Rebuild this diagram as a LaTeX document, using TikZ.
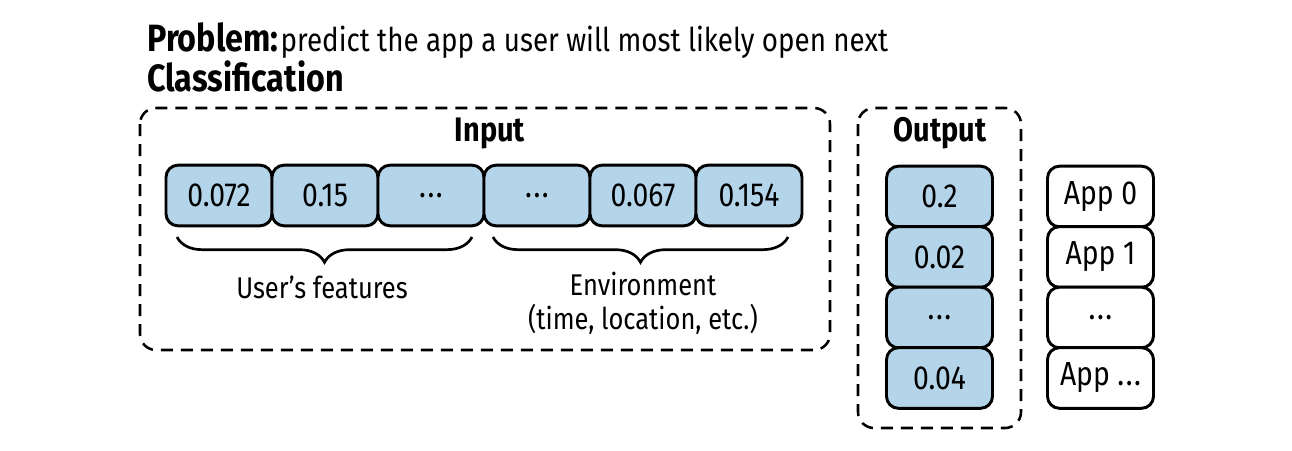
\documentclass[tikz,border=0pt]{standalone}
\usepackage{fontspec}
\setmainfont{Fira Sans}[FakeStretch=0.85]
\usetikzlibrary{decorations.pathreplacing}
\definecolor{cellblue}{RGB}{180,212,234}
\newcommand{\mydots}{.\kern1.2pt.\kern1.2pt.}
\tikzset{
  cellbox/.style={draw=black, line width=2.2pt, rounded corners=9pt, fill=cellblue,
    minimum width=79.5pt, minimum height=45.5pt, inner sep=0pt,
    font=\fontsize{25}{30}\selectfont},
  appbox/.style={cellbox, fill=white},
  groupbox/.style={draw=black, line width=1.9pt, dash pattern=on 9pt off 6pt, rounded corners=12pt},
  headlbl/.style={font=\fontsize{25.5}{30}\selectfont\bfseries},
  lbl/.style={font=\fontsize{22.5}{25.5}\selectfont, align=center},
  bracestyle/.style={draw=black, line width=2pt, decorate, decoration={brace, amplitude=19pt}}
}
\begin{document}
\begin{tikzpicture}[x=0.75pt,y=-0.75pt]
\useasboundingbox (0,0) rectangle (1292,450);
% title
\node[anchor=base west, inner sep=0pt] (title) at (147,51)
  {{\fontsize{28.5}{34}\selectfont\bfseries Problem:}\,{\fontsize{24.5}{29}\selectfont predict the app a user will most likely open next}};
\node[anchor=base west, inner sep=0pt, font=\fontsize{28.5}{34}\selectfont\bfseries] (cls) at (147,91) {Classification};
% group boxes
\draw[groupbox] (140,108) rectangle (830,350);
\draw[groupbox] (858,108) rectangle (1021,428);
\node[headlbl] (inlbl) at (490,133) {Input};
\node[headlbl] (outlbl) at (940,133) {Output};
% input cells
\node[cellbox] (c1) at (219,195.5) {0.072};
\node[cellbox] (c2) at (325,195.5) {0.15};
\node[cellbox] (c3) at (431,195.5) {\mydots};
\node[cellbox] (c4) at (537,195.5) {\mydots};
\node[cellbox] (c5) at (643,195.5) {0.067};
\node[cellbox] (c6) at (749,195.5) {0.154};
% braces
\coordinate (b1s) at (472,237);
\coordinate (b1e) at (177,237);
\coordinate (b2s) at (788,237);
\coordinate (b2e) at (493,237);
\draw[bracestyle] (b1s) -- (b1e);
\draw[bracestyle] (b2s) -- (b2e);
\node[lbl] (ulbl) at (322,287) {User’s features};
\node[lbl] (elbl) at (643,303) {Environment\\(time, location, etc.)};
% output cells
\node[cellbox] (o1) at (939.5,196.5) {0.2};
\node[cellbox] (o2) at (939.5,257) {0.02};
\node[cellbox] (o3) at (939.5,317.5) {\mydots};
\node[cellbox] (o4) at (939.5,378) {0.04};
% app boxes
\node[appbox] (a1) at (1100.5,196.5) {App 0};
\node[appbox] (a2) at (1100.5,257) {App 1};
\node[appbox] (a3) at (1100.5,317.5) {\mydots};
\node[appbox] (a4) at (1100.5,378) {App \mydots};
\end{tikzpicture}
\end{document}
